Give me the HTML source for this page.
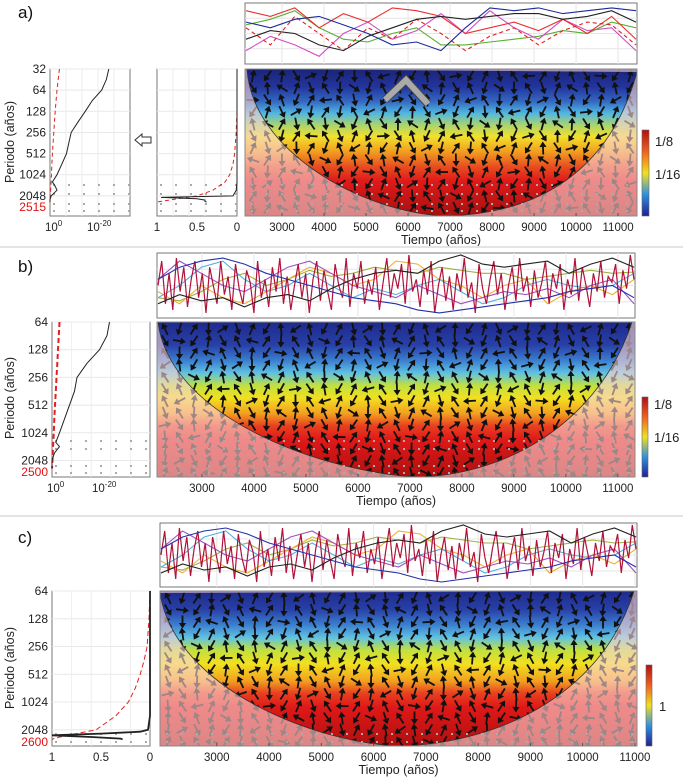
<!DOCTYPE html>
<html><head><meta charset="utf-8"><style>
html,body{margin:0;padding:0;background:#fff}
svg{display:block;font-family:"Liberation Sans",sans-serif}
</style></head><body>
<svg id="fig" width="683" height="784" viewBox="0 0 683 784"></svg>
<script>
// ---------- data ----------
const xTicks=[3000,4000,5000,6000,7000,8000,9000,10000,11000];
const aPeriodTicks=[32,64,128,256,512,1024,2048];
const bcPeriodTicks=[64,128,256,512,1024,2048];
// panel a top series (0 bottom,1 top)
const aBlack=[0.4,0.55,0.5,0.3,0.2,0.45,0.6,0.75,0.8,0.75,0.8,0.85,0.85,0.75,0.8,0.9,0.7];
const aBlue=[0.7,0.6,0.75,0.8,0.65,0.5,0.3,0.35,0.2,0.6,0.95,0.9,0.95,0.85,0.9,0.95,0.9];
const aRed=[0.9,0.8,0.95,0.6,0.85,0.7,0.95,0.9,0.8,0.5,0.6,0.7,0.55,0.75,0.5,0.8,0.4];
const aRedDash=[0.6,0.3,0.8,0.5,0.2,0.6,0.4,0.75,0.5,0.2,0.45,0.6,0.3,0.55,0.7,0.65,0.3];
const aMagenta=[0.2,0.45,0.3,0.1,0.5,0.7,0.4,0.55,0.85,0.5,0.9,0.6,0.4,0.75,0.55,0.6,0.2];
const aGreen=[0.65,0.75,0.9,0.6,0.4,0.35,0.5,0.6,0.3,0.3,0.35,0.4,0.45,0.55,0.5,0.7,0.6];
// panels b/c top series
const bBlack=[0.2,0.35,0.25,0.3,0.15,0.3,0.35,0.25,0.45,0.6,0.7,0.75,0.7,0.9,1,0.85,0.8,0.85,0.9,0.7,0.85,0.95,0.8];
const bNoisy=[0.5,0.9,0.2,0.7,0.1,0.95,0.4,0.8,0.15,0.6,0.9,0.3,0.7,0.05,0.8,0.5,0.2,0.9,0.35,0.65,0.1,0.85,0.45,0.2,0.75,0.55,0.05,0.9,0.3,0.6,0.15,0.8,0.4,0.95,0.2,0.65,0.1,0.5,0.85,0.3,0.7,0.05,0.6,0.9,0.25,0.75,0.4,0.1,0.85,0.5,0.3,0.95,0.15,0.7,0.45,0.9,0.2,0.6,0.35,0.8,0.1,0.55,0.95,0.3,0.7,0.45,0.85,0.2,1,0.4,
 0.6,0.15,0.75,0.35,0.9,0.05,0.5,0.8,0.25,0.65,0.1,0.7,0.4,0.95,0.3,0.55,0.05,0.85,0.45,0.2,0.6,0.9,0.35,0.7,0.1,0.5,0.8,0.25,0.95,0.4,0.65,0.15,0.75,0.3,0.55,0.9,0.2,0.7,0.45,0.85,0.1,0.6,0.35,0.95,0.25,0.8,0.5,0.15,0.7,0.4,0.9,0.3,0.65,0.55,0.85,0.2,0.75,0.45,1,0.6];
const bBlue=[0.6,0.8,0.9,0.95,0.85,0.7,0.6,0.5,0.4,0.3,0.25,0.2,0.1,0.05,0.1,0.15,0.2,0.25,0.3,0.4,0.45,0.5,0.3];
const bCyan=[0.3,0.5,0.8,0.9,0.6,0.4,0.5,0.7,0.5,0.3,0.45,0.35,0.5,0.6,0.4,0.2,0.3,0.5,0.6,0.5,0.45,0.5,0.7];
const bOrange=[0.4,0.2,0.5,0.3,0.2,0.4,0.6,0.8,0.7,0.5,0.6,0.9,0.85,0.6,0.5,0.3,0.5,0.6,0.2,0.4,0.5,0.35,0.6];
const bGreen=[0.3,0.25,0.4,0.6,0.7,0.5,0.6,0.75,0.65,0.7,0.8,0.75,0.7,0.8,0.75,0.7,0.7,0.6,0.65,0.7,0.75,0.7,0.72];
const bPurple=[0.6,0.9,0.7,0.5,0.4,0.6,0.8,0.9,0.7,0.5,0.4,0.3,0.5,0.35,0.2,0.3,0.4,0.35,0.45,0.3,0.5,0.6,0.2];
// left spectra: periods & values
const aPer=[32,45,64,90,128,180,256,362,512,724,1024,1300,1448,1700,2048,2300,2515];
const aPowBlack=[-25,-24,-22,-18,-15,-12,-9,-8,-7,-5,-3,-1,-2,-3,-0.5,0,0];
const aPowRed=[-4,-3.5,-3,-2.6,-2.2,-1.9,-1.6,-1.3,-1,-0.8,-0.6,-0.5,-0.4,-0.3,-0.2,-0.1,0];
const aSigPer=[32,128,256,512,724,1024,1300,1700,2048,2150,2250,2350,2450,2515];
const aSigRed=[0,0,0.01,0.03,0.05,0.09,0.15,0.3,0.5,0.62,0.75,0.85,0.95,1];
const aSigBlack=[0,0,0,0,0,0,0,0.01,0.05,0.95,0.5,0.4,0.4,0.38];
const bPer=[64,90,128,180,256,362,512,724,1024,1300,1448,1700,2048,2300,2500];
const bPowBlack=[-23,-22,-19,-14,-10,-9,-7,-5,-3,-1.5,-3,-1,0,0,0];
const bPowRed=[-3,-2.7,-2.4,-2.1,-1.8,-1.5,-1.2,-0.9,-0.7,-0.5,-0.4,-0.3,-0.2,-0.1,0];
const cPer=[64,128,256,362,512,724,1024,1448,2048,2150,2250,2350,2450,2550,2600];
const cSigRed=[0,0.01,0.03,0.06,0.1,0.15,0.22,0.35,0.55,0.65,0.75,0.85,0.92,0.98,1];
const cSigBlack=[0,0,0,0,0,0,0,0,0.02,0.1,0.5,1,0.6,0.3,0.28];

const NS='http://www.w3.org/2000/svg';
const svg=document.getElementById('fig');
function el(tag,attrs,parent){const e=document.createElementNS(NS,tag);for(const k in attrs)e.setAttribute(k,attrs[k]);(parent||svg).appendChild(e);return e;}
function txt(s,x,y,attrs,parent){const t=el('text',Object.assign({x:x,y:y,'font-size':12,fill:'#222'},attrs||{}),parent);t.textContent=s;return t;}
const defs=el('defs',{});

const panels=[
 {id:'a',label:'a)',ly:18,top:[245,3,637,64],hm:[245,69,637,216],t0:2119,t1:11450,pTop:32,pBot:3960,pTicks:aPeriodTicks,
  series:[[aGreen,'#5aaf30',''],[aMagenta,'#d050c0',''],[aRed,'#e83030',''],[aRedDash,'#e02020','4,3'],[aBlue,'#1c2a9c',''],[aBlack,'#222','']],
  coi:'M247,69 C252,150 360,212 445,216 C540,214 610,170 637,72',cb:[642,130,649,216],cbl:[['1/8',141],['1/16',174]],
  grad:[[0,'#1a2478'],[0.12,'#22349c'],[0.22,'#3468c2'],[0.3,'#50b6e2'],[0.38,'#a8d470'],[0.46,'#f2e02c'],[0.56,'#f2a020'],[0.66,'#e85020'],[0.76,'#e01a1a'],[1,'#a81010']],
  dotsY:[184,193,203,210],ylab:142,pcol:'2515',pcolY:211},
 {id:'b',label:'b)',ly:272,top:[157,253,635,318],hm:[157,322,635,477],t0:2135,t1:11330,pTop:64,pBot:3100,pTicks:bcPeriodTicks,
  series:[[bGreen,'#a0b040',''],[bOrange,'#f0b030',''],[bCyan,'#50b0e0',''],[bPurple,'#a050c0',''],[bNoisy,'#b0123a',''],[bBlue,'#2430a8',''],[bBlack,'#222','']],
  coi:'M158,322 C170,420 330,474 420,477 C510,474 600,420 632,322',cb:[642,397,648,477],cbl:[['1/8',404],['1/16',437]],
  grad:[[0,'#1e2a8c'],[0.15,'#2840a8'],[0.25,'#3c80d0'],[0.33,'#60c2e2'],[0.41,'#c0e040'],[0.49,'#f2e020'],[0.59,'#f2a020'],[0.67,'#e84020'],[0.76,'#e01818'],[1,'#b01010']],
  dotsY:[440,448,465,472],ylab:398,pcol:'2500',pcolY:476},
 {id:'c',label:'c)',ly:543,top:[160,523,637,587],hm:[160,591,637,746],t0:1914,t1:11040,pTop:64,pBot:3070,pTicks:bcPeriodTicks,
  series:[[bGreen,'#a0b040',''],[bOrange,'#f0b030',''],[bCyan,'#50b0e0',''],[bPurple,'#a050c0',''],[bNoisy,'#b0123a',''],[bBlue,'#2430a8',''],[bBlack,'#222','']],
  coi:'M160,593 C175,690 320,744 400,746 C490,744 600,700 634,591',cb:[646,665,652,746],cbl:[['1',706]],
  grad:[[0,'#1e2a8c'],[0.12,'#2840a8'],[0.22,'#3c80d0'],[0.3,'#60c2e2'],[0.38,'#c0e040'],[0.47,'#f2e020'],[0.58,'#f2a020'],[0.66,'#e84020'],[0.75,'#e01818'],[1,'#b01010']],
  dotsY:[733,741],ylab:668,pcol:'2600',pcolY:746}
];

panels.forEach(function(P){
  const g=el('g',{});
  
  
  const pl=txt(P.label,18,P.ly,{'font-size':17,fill:'#111'},g);
  
  
  const [hx0,hy0,hx1,hy1]=P.hm;
  const yP=function(p){return hy0+(Math.log2(p)-Math.log2(P.pTop))/(Math.log2(P.pBot)-Math.log2(P.pTop))*(hy1-hy0);};
  const xT=function(t){return hx0+(t-P.t0)/(P.t1-P.t0)*(hx1-hx0);};
  // top series box
  const [tx0,ty0,tx1,ty1]=P.top;
  const tb=el('rect',{x:tx0,y:ty0,width:tx1-tx0,height:ty1-ty0,fill:'#fff',stroke:'#777','stroke-width':1},g);
  
  
  xTicks.forEach(function(t){const x=xT(t);if(x>tx0&&x<tx1)el('line',{x1:x,x2:x,y1:ty0,y2:ty1,stroke:'#e6e6e6'},g);});
  for(let k=1;k<4;k++){const y=ty0+k*(ty1-ty0)/4;el('line',{x1:tx0,x2:tx1,y1:y,y2:y,stroke:'#e6e6e6'},g);}
  P.series.forEach(function(s,si){
    const arr=s[0];let d='';
    arr.forEach(function(v,i){const x=tx0+1+i/(arr.length-1)*(tx1-tx0-2);const y=ty1-2-v*(ty1-ty0-4);d+=(i?'L':'M')+x.toFixed(1)+','+y.toFixed(1);});
    const p=el('path',{d:d,fill:'none',stroke:s[1],'stroke-width':s[1]=='#b0123a'?1.2:1.1,'stroke-dasharray':s[2]||'none'},g);
    
    
  });
  // heatmap gradient
  const lg=el('linearGradient',{id:'grad'+P.id,x1:0,y1:0,x2:0,y2:1},defs);
  P.grad.forEach(function(s){el('stop',{offset:s[0],'stop-color':s[1]},lg);});
  const cg=el('linearGradient',{id:'cb'+P.id,x1:0,y1:1,x2:0,y2:0},defs);
  [[0,'#202090'],[0.25,'#3090e0'],[0.5,'#f0e020'],[0.75,'#f06020'],[1,'#b01010']].forEach(function(s){el('stop',{offset:s[0],'stop-color':s[1]},cg);});
  const hm=el('rect',{x:hx0,y:hy0,width:hx1-hx0,height:hy1-hy0,fill:'url(#grad'+P.id+')'},g);
  
  
  const clip=el('clipPath',{id:'clip'+P.id},defs);
  el('rect',{x:hx0,y:hy0,width:hx1-hx0,height:hy1-hy0},clip);
  const coiOut='M'+hx0+','+hy0+' H'+hx1+' V'+hy1+' H'+hx0+' Z '+P.coi+' Z';
  // arrows
  const ag=el('g',{'clip-path':'url(#clip'+P.id+')'},g);
  let idx=0;
  for(let y=hy0+7;y<hy1;y+=12){
    for(let x=hx0+8;x<hx1;x+=14.5){
      idx++;
      const ang=(idx%2?-1:1)*Math.PI/2+Math.sin(idx*1.3+y*0.07)*0.6+(idx%5==0?Math.PI/2:0);
      const L=6.5,dx=Math.cos(ang)*L,dy=Math.sin(ang)*L;
      el('line',{x1:x-dx,y1:y-dy,x2:x+dx*0.5,y2:y+dy*0.5,stroke:'#111','stroke-width':1.8},ag);
      const hx=x+dx,hy=y+dy,px=-dy*0.55,py=dx*0.55;
      el('polygon',{points:hx+','+hy+' '+(x+dx*0.15+px)+','+(y+dy*0.15+py)+' '+(x+dx*0.15-px)+','+(y+dy*0.15-py),fill:'#111'},ag);
    }
  }
  const ov=el('path',{d:coiOut,'fill-rule':'evenodd',fill:'#fff','fill-opacity':0.5,stroke:'none','clip-path':'url(#clip'+P.id+')'},g);
  
  
  el('path',{d:coiOut,'fill-rule':'evenodd',fill:'#f08080','fill-opacity':0.2,'clip-path':'url(#clip'+P.id+')'},g);
  el('path',{d:P.coi,fill:'none',stroke:'#333','stroke-width':0.8},g);
  // stipple dots
  P.dotsY.forEach(function(y){for(let x=hx0+6;x<hx1;x+=15)el('rect',{x:x,y:y,width:2,height:2,fill:'#aaa'},g);});
  el('rect',{x:hx0,y:hy0,width:hx1-hx0,height:hy1-hy0,fill:'none',stroke:'#888'},g);
  // x tick labels
  xTicks.forEach(function(t){const x=xT(t);const tl=txt(String(t),x,hy1+15,{'text-anchor':'middle','font-size':11.5},g);
    
    el('line',{x1:x,x2:x,y1:hy1,y2:hy1-3,stroke:'#555'},g);});
  const xl=txt('Tiempo (años)',(hx0+hx1)/2,hy1+28,{'text-anchor':'middle','font-size':12.5},g);
  
  // colorbar
  const [c0,c1,c2,c3]=P.cb;
  const cb=el('rect',{x:c0,y:c1,width:c2-c0,height:c3-c1,fill:'url(#cb'+P.id+')',stroke:'#666','stroke-width':0.6},g);
  
  P.cbl.forEach(function(l){const t=txt(l[0],c2+(l[0]=='1'?7:6),l[1]+5,{'font-size':13},g);
    });
  // left plots
  function leftPlot(x0,x1,name){
    const r=el('rect',{x:x0,y:hy0,width:x1-x0,height:hy1-hy0,fill:'#fff',stroke:'#777'},g);
    
    P.pTicks.forEach(function(p){el('line',{x1:x0,x2:x1,y1:yP(p),y2:yP(p),stroke:'#e8e8e8'},g);});
    for(let k=1;k<5;k++){const x=x0+k*(x1-x0)/5;el('line',{x1:x,x2:x,y1:hy0,y2:hy1,stroke:'#eee'},g);}
    P.dotsY.forEach(function(y){for(let x=x0+3;x<x1;x+=15)el('rect',{x:x,y:y,width:2,height:2,fill:'#aaa'},g);});
  }
  function curve(per,vals,xf,col,dash,w,name){
    let d='';per.forEach(function(p,i){d+=(i?'L':'M')+xf(vals[i]).toFixed(1)+','+Math.min(yP(p),hy1).toFixed(1);});
    const c=el('path',{d:d,fill:'none',stroke:col,'stroke-width':w,'stroke-dasharray':dash||'none'},g);
    
  }
  function yLabels(x){
    P.pTicks.forEach(function(p){const t=txt(String(p),x,yP(p)+4,{'text-anchor':'end','font-size':12},g);
      });
    const t=txt(P.pcol,x,P.pcolY,{'text-anchor':'end','font-size':12,fill:'#e01010'},g);
    
    const yl=txt('Periodo (años)',0,0,{'text-anchor':'middle','font-size':12.5,transform:'translate(14,'+P.ylab+') rotate(-90)'},g);
    
  }
  function logTicks(x0,x20){
    const a=txt('10',x0-5,hy1+15,{'font-size':11.5},g);const s=el('tspan',{dy:-5,'font-size':8},a);s.textContent='0';
    const b=txt('10',x20-10,hy1+15,{'font-size':11.5},g);const s2=el('tspan',{dy:-5,'font-size':8},b);s2.textContent='-20';
    
    
  }
  function linTicks(x1v,x0v){
    [[1,x1v],[0.5,(x1v+x0v)/2],[0,x0v]].forEach(function(q){const t=txt(String(q[0]),q[1],hy1+15,{'text-anchor':'middle','font-size':11.5},g);
      });
  }
  if(P.id=='a'){
    leftPlot(50,130,'global-spectrum-a');
    const lx=function(v){return 50-v*(47/20);};
    curve(aPer,aPowRed,lx,'#e02020','4,3',1,'spectrum-red-a');
    curve(aPer,aPowBlack,lx,'#222','',1,'spectrum-black-a');
    yLabels(46);logTicks(50,97);
    leftPlot(157,237,'significance-a');
    const sx=function(v){return 237-v*80;};
    curve(aSigPer,aSigRed,sx,'#e02020','4,3',1,'sig-red-a');
    curve(aSigPer,aSigBlack,sx,'#222','',1,'sig-black-a');
    linTicks(157,237);
    const arr=el('polygon',{points:'135,140 142,134 142,137 151,137 151,143 142,143 142,146',fill:'#fff',stroke:'#333','stroke-width':1},g);
    
    const chev=el('polyline',{points:'385,100 406,80 428,104',fill:'none',stroke:'#444','stroke-width':8},g);
    
    el('polyline',{points:'385,100 406,80 428,104',fill:'none',stroke:'#aaa','stroke-width':6},g);
  } else if(P.id=='b'){
    leftPlot(52,150,'global-spectrum-b');
    const lx=function(v){return 52-v*(50/20);};
    curve(bPer,bPowRed,lx,'#e02020','5,3',2,'spectrum-red-b');
    curve(bPer,bPowBlack,lx,'#222','',1,'spectrum-black-b');
    yLabels(48);logTicks(52,102);
  } else {
    leftPlot(52,150,'significance-c');
    const sx=function(v){return 150-v*98;};
    curve(cPer,cSigRed,sx,'#e02020','5,3',1,'sig-red-c');
    curve(cPer,cSigBlack,sx,'#222','',1.8,'sig-black-c');
    yLabels(48);linTicks(52,150);
  }
});
// separators
[247,516].forEach(function(y,i){const l=el('line',{x1:0,x2:683,y1:y,y2:y,stroke:'#e4e4e4','stroke-width':2});
  });
</script>
</body></html>
